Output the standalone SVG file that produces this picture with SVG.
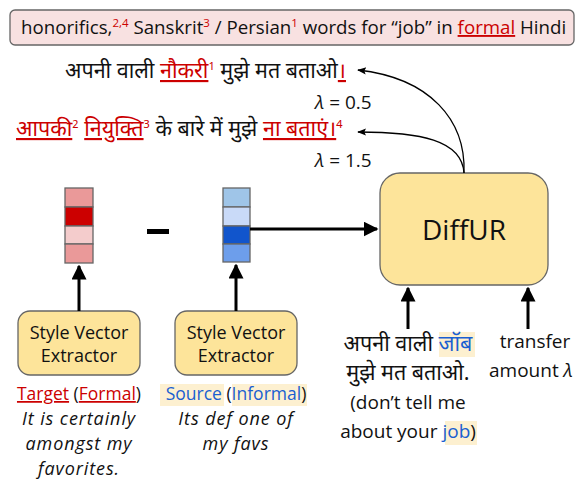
<svg xmlns="http://www.w3.org/2000/svg" width="579" height="481" viewBox="0 0 579 481">
<defs>
<style>
text{font-family:"Open Sans","Noto Sans Devanagari","Noto Sans",sans-serif;fill:#111}
.hi{font-family:"Noto Sans Devanagari","Noto Sans","Open Sans",sans-serif;font-size:21.5px}
.red{fill:#cc0000}
.blue{fill:#1a5fd1}
.u{text-decoration:underline}
.box{fill:#fde49a;stroke:#666;stroke-width:1.3}
.cell{stroke:#666;stroke-width:1.3}
.conn{stroke:#000;stroke-width:3;fill:none}
.curve{stroke:#000;stroke-width:1.3;fill:none}
.sup{font-size:11.5px}
.mid{text-anchor:middle}
.it{font-style:italic}
.ex{font-style:italic;font-size:18px;letter-spacing:0.9px}
.hl{fill:#fdf0d0}
</style>
<marker id="ah" viewBox="0 0 10 10" refX="9" refY="5" markerWidth="5" markerHeight="5" orient="auto"><path d="M0,0 L10,5 L0,10 z" fill="#000"/></marker>
<marker id="ah2" viewBox="0 0 10 10" refX="9" refY="5" markerWidth="9" markerHeight="9" orient="auto" markerUnits="userSpaceOnUse"><path d="M0,1 L10,5 L0,9 L2,5 z" fill="#000"/></marker>
</defs>

<g id="banner">
<rect x="10" y="10" width="564" height="35" rx="5" fill="#f8e1e1" stroke="#666" stroke-width="1.3"/>
<text x="21" y="34" font-size="18.7">honorifics,<tspan class="red sup" dy="-7">2,4</tspan><tspan dy="7"> Sanskrit</tspan><tspan class="red sup" dy="-7">3</tspan><tspan dy="7"> / Persian</tspan><tspan class="red sup" dy="-7">1</tspan><tspan dy="7"> words for “job” in </tspan><tspan class="red u">formal</tspan> Hindi</text>
</g>

<g id="out1">
<text class="hi" x="65" y="78">अपनी वाली <tspan class="red u">नौकरी</tspan><tspan class="red sup" dy="-8">1</tspan><tspan dy="8"> मुझे मत बताओ</tspan><tspan class="red u">।</tspan></text>
<text x="315" y="109" font-size="19"><tspan class="it">λ</tspan> = 0.5</text>
</g>
<g id="out2">
<text class="hi" x="16" y="136"><tspan class="red u">आपकी</tspan><tspan class="sup red" dy="-8">2</tspan><tspan dy="8"> </tspan><tspan class="red u">नियुक्ति</tspan><tspan class="red sup" dy="-8">3</tspan><tspan dy="8"> के बारे में मुझे </tspan><tspan class="red u">ना बताएं।</tspan><tspan class="red sup" dy="-8">4</tspan></text>
<text x="315" y="167" font-size="19"><tspan class="it">λ</tspan> = 1.5</text>
</g>

<g id="target-vector">
<rect class="cell" x="65" y="188" width="28" height="19" fill="#ea9999"/>
<rect class="cell" x="65" y="207" width="28" height="19" fill="#cc0000"/>
<rect class="cell" x="65" y="226" width="28" height="18" fill="#f4cccc"/>
<rect class="cell" x="65" y="244" width="28" height="19" fill="#ea9999"/>
</g>
<g id="minus"><rect x="147" y="229" width="22" height="5" fill="#000"/></g>
<g id="source-vector">
<rect class="cell" x="223" y="188" width="27" height="19" fill="#9fc5e8"/>
<rect class="cell" x="223" y="207" width="27" height="19" fill="#c9daf8"/>
<rect class="cell" x="223" y="226" width="27" height="18" fill="#1155cc"/>
<rect class="cell" x="223" y="244" width="27" height="18" fill="#6d9eeb"/>
</g>

<g id="diffur">
<rect class="box" x="380" y="173" width="168" height="112" rx="20"/>
<text class="mid" x="464" y="240" font-size="28">DiffUR</text>
</g>

<g id="extractor-target">
<rect class="box" x="18" y="311" width="122" height="64" rx="12"/>
<text class="mid" x="79" y="339" font-size="18">Style Vector</text>
<text class="mid" x="79" y="362" font-size="18">Extractor</text>
</g>
<g id="extractor-source">
<rect class="box" x="175" y="311" width="122" height="64" rx="12"/>
<text class="mid" x="236" y="339" font-size="18">Style Vector</text>
<text class="mid" x="236" y="362" font-size="18">Extractor</text>
</g>

<g id="target-label" font-size="17.5">
<text class="mid" x="79" y="400"><tspan class="red u">Target</tspan> (<tspan class="red u">Formal</tspan>)</text>
<text class="mid ex" x="79" y="425">It is certainly</text>
<text class="mid ex" x="79" y="450">amongst my</text>
<text class="mid ex" x="79" y="475">favorites.</text>
</g>
<g id="source-label" font-size="17.5">
<rect class="hl" x="160" y="384" width="64" height="22"/>
<rect class="hl" x="232" y="384" width="75" height="22"/>
<text class="mid" x="236" y="400"><tspan class="blue">Source</tspan> (<tspan class="blue">Informal</tspan>)</text>
<text class="mid ex" x="236" y="425">Its def one of</text>
<text class="mid ex" x="236" y="450">my favs</text>
</g>

<g id="input-text" font-size="19">
<rect class="hl" x="439" y="332" width="36" height="25"/>
<rect class="hl" x="445" y="421" width="32" height="24"/>
<text class="hi mid" x="408" y="351">अपनी वाली <tspan class="blue">जॉब</tspan></text>
<text class="hi mid" x="408" y="380">मुझे मत बताओ.</text>
<text class="mid" x="408" y="409">(don’t tell me</text>
<text class="mid" x="408" y="438">about your <tspan class="blue">job</tspan>)</text>
</g>
<g id="transfer-amount" font-size="19">
<text class="mid" x="535" y="348">transfer</text>
<text x="489" y="377">amount <tspan class="it">λ</tspan></text>
</g>

<g id="connectors">
<line class="conn" x1="79" y1="311" x2="79" y2="266" marker-end="url(#ah)"/>
<line class="conn" x1="236" y1="311" x2="236" y2="265" marker-end="url(#ah)"/>
<line class="conn" x1="250" y1="229" x2="377" y2="229" marker-end="url(#ah)"/>
<line class="conn" x1="408" y1="329" x2="408" y2="288" marker-end="url(#ah)"/>
<line class="conn" x1="528" y1="329" x2="528" y2="288" marker-end="url(#ah)"/>
<path class="curve" d="M464,173 C466,120 430,78 358,70" marker-end="url(#ah2)"/>
<path class="curve" d="M464,173 C462,140 420,132 358,132" marker-end="url(#ah2)"/>
</g>
</svg>
